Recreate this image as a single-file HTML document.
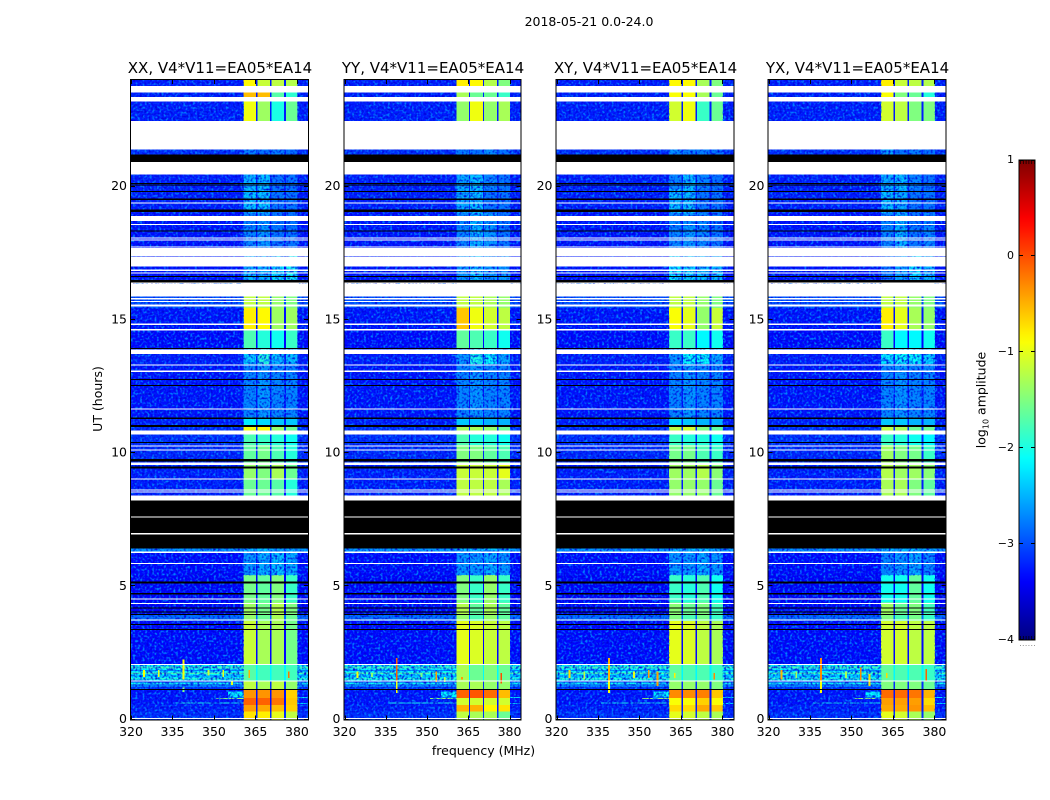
<!DOCTYPE html>
<html>
<head>
<meta charset="utf-8">
<title>2018-05-21 0.0-24.0</title>
<style>
html,body{margin:0;padding:0;background:#fff;width:1050px;height:800px;overflow:hidden}
svg{display:block}
text{font-family:"DejaVu Sans","Liberation Sans",sans-serif;fill:#000}
</style>
</head>
<body>
<svg id="figure" xmlns="http://www.w3.org/2000/svg" width="1050" height="800" viewBox="0 0 1050 800">
  <defs>
    <filter id="speckleLight" x="0" y="0" width="100%" height="100%" color-interpolation-filters="sRGB">
      <feTurbulence type="fractalNoise" baseFrequency="0.42" numOctaves="1" seed="4"/>
      <feColorMatrix type="matrix" values="0 0 0 0 0  0 0 0 0 0.5  0 0 0 0 1  4 0 0 0 -1.9"/>
    </filter>
    <filter id="speckleDark" x="0" y="0" width="100%" height="100%" color-interpolation-filters="sRGB">
      <feTurbulence type="fractalNoise" baseFrequency="0.45" numOctaves="1" seed="11"/>
      <feColorMatrix type="matrix" values="0 0 0 0 0  0 0 0 0 0  0 0 0 0 0.85  0 3 0 0 -1.4"/>
    </filter>
    <linearGradient id="jetGradient" x1="0" y1="0" x2="0" y2="1"></linearGradient>
  </defs>
  <text x="589" y="26" font-size="12.5" text-anchor="middle">2018-05-21 0.0-24.0</text>
  <text x="483.5" y="755" font-size="12.5" text-anchor="middle">frequency (MHz)</text>
  <text font-size="12.5" text-anchor="middle" transform="translate(102 399) rotate(-90)">UT (hours)</text>
  <text font-size="12.5" text-anchor="middle" transform="translate(985.5 400) rotate(-90)">log<tspan font-size="8" dy="3">10</tspan><tspan dy="-3"> amplitude</tspan></text>
  <g id="panels"></g>
  <g id="colorbar"></g>
</svg>
<script>
// ---- data ----
const panelNames = ['XX', 'YY', 'XY', 'YX'];
const titleSuffix = ', V4*V11=EA05*EA14';
const freqTicks = [320, 335, 350, 365, 380];
const hourTicks = [0, 5, 10, 15, 20];
const colorbarTicks = [1, 0, -1, -2, -3, -4];
const subbandLow = [360.7, 365.7, 370.8, 376];
const subbandHigh = [365.2, 370.3, 375.4, 380.2];

const rowTop = [24, 23.55, 23.3, 21.45, 20.5, 19.9, 19, 17.4, 15.9, 15.45, 14.6, 13.9, 13.35, 11.35, 11.05, 10.8, 10.3, 9.6, 9, 6.42, 6.28, 5.42, 4.4, 3.95, 3.7, 2.07, 1.47, 1.1, 0.8, 0.55, 0.3];
const rowBottom = [23.55, 23.3, 22.45, 20.9, 19.9, 19, 17.7, 16.4, 15.45, 14.6, 13.9, 13.35, 11.35, 11.05, 10.8, 10.3, 9.6, 9, 8.41, 6.28, 5.42, 4.4, 3.95, 3.7, 2.07, 1.47, 1.1, 0.8, 0.55, 0.3, 0];
const rowBackground = [-3.25, -3.25, -3.25, -3.15, -3.25, -3.25, -3.3, -3.3, -3.0, -3.3, -3.35, -3.25, -3.3, -3.25, -3.15, -3.15, -3.2, -3.25, -3.25, -2.6, -3.35, -3.4, -3.4, -2.85, -3.35, -2.15, -3.15, -3.3, -3.3, -3.25, -3.15];

const bandsXX = [
[-.85,-1.15,-1.2,-1.25],[-.55,-.55,-1.7,-1.9],[-.95,-1.35,-2.0,-1.6],[-2.75,-2.8,-2.75,-2.85],[-2.45,-2.4,-2.8,-2.8],[-2.4,-2.4,-2.8,-2.8],[-2.7,-2.6,-2.8,-2.8],[-2.45,-2.45,-2.25,-2.05],
[-1.2,-1.2,-1.4,-1.5],[-.8,-.85,-1.35,-1.35],[-1.75,-1.95,-2.05,-1.85],[-2.3,-1.95,-2.4,-2.4],[-2.7,-2.6,-2.7,-2.7],[-2.2,-2.3,-2.4,-2.4],[-.95,-.9,-1.4,-1.6],[-1.75,-1.85,-1.95,-2.05],
[-1.65,-1.55,-1.75,-1.95],[-1.4,-1.5,-1.3,-1.6],[-1.6,-1.6,-1.7,-1.95],[-2.4,-2.4,-2.5,-2.5],[-2.6,-2.5,-2.4,-2.5],[-1.55,-1.65,-1.5,-1.85],[-1.35,-1.55,-1.25,-1.5],[-1.4,-1.6,-1.3,-1.6],
[-1.15,-1.3,-1.3,-1.55],[-1.7,-1.8,-1.8,-1.8],[-1.2,-1.3,-1.2,-1.4],[-.35,-.35,-.35,-.65],[-.1,-.1,-.2,-.6],[-.4,-.45,-.55,-.65],[-.75,-.8,-1.0,-1.2]];
const bandsYY = [
[-.8,-.85,-1.25,-1.5],[-1.3,-1.6,-1.6,-1.85],[-1.4,-.95,-1.4,-1.3],[-2.75,-2.8,-2.65,-2.8],[-2.5,-2.4,-2.7,-2.8],[-2.5,-2.4,-2.8,-2.8],[-2.7,-2.45,-2.6,-2.8],[-2.6,-2.4,-2.6,-2.6],
[-1.2,-1.2,-1.3,-1.4],[-.6,-.95,-1.1,-1.2],[-1.65,-1.75,-1.85,-2.05],[-2.6,-2.0,-2.1,-2.5],[-2.7,-2.6,-2.7,-2.7],[-2.4,-2.4,-2.5,-2.5],[-1.3,-1.3,-1.4,-1.6],[-1.75,-1.95,-1.95,-2.05],
[-1.5,-1.5,-1.65,-1.75],[-1.15,-1.15,-1.15,-1.0],[-1.2,-1.2,-1.2,-1.3],[-2.4,-2.4,-2.4,-2.4],[-2.6,-2.6,-2.5,-2.6],[-1.5,-1.85,-1.4,-1.85],[-1.25,-1.65,-1.3,-1.65],[-1.4,-1.75,-1.4,-1.65],
[-1.0,-1.05,-1.15,-1.2],[-1.3,-1.6,-1.5,-1.6],[-1.3,-1.3,-1.4,-1.4],[-.1,-.05,-.15,-.55],[-1.1,-1.1,-1.1,-1.1],[-.5,-.5,-.85,-.75],[-1.2,-1.3,-1.3,-1.6]];
const bandsXY = [
[-.85,-.85,-1.3,-1.5],[-.9,-.9,-1.3,-1.6],[-1.1,-.95,-1.85,-1.6],[-2.65,-2.75,-2.75,-2.8],[-2.7,-2.4,-2.7,-2.8],[-2.4,-2.4,-2.8,-2.8],[-2.7,-2.6,-2.7,-2.8],[-2.2,-2.3,-2.4,-2.4],
[-1.2,-1.2,-1.4,-1.5],[-.9,-1.0,-1.4,-1.15],[-1.85,-1.85,-2.15,-2.05],[-2.6,-2.1,-2.1,-2.5],[-2.7,-2.6,-2.7,-2.7],[-2.3,-2.4,-2.5,-2.5],[-1.2,-1.1,-1.5,-1.65],[-1.85,-1.95,-1.95,-2.05],
[-1.55,-1.55,-1.75,-1.85],[-1.35,-1.35,-1.25,-1.45],[-1.4,-1.4,-1.4,-1.6],[-2.4,-2.4,-2.4,-2.5],[-2.6,-2.6,-2.5,-2.6],[-1.85,-1.95,-1.75,-2.05],[-1.45,-1.6,-1.5,-1.8],[-1.5,-1.75,-1.55,-1.85],
[-1.0,-1.05,-1.2,-1.3],[-1.65,-1.75,-1.75,-1.85],[-1.4,-1.4,-1.4,-1.5],[-.3,-.3,-.25,-.6],[-.9,-.9,-.65,-.9],[-.7,-.7,-.45,-.6],[-1.0,-1.1,-1.2,-1.3]];
const bandsYX = [
[-.8,-1.15,-1.2,-1.25],[-.9,-1.5,-1.6,-1.95],[-1.1,-1.2,-1.5,-1.5],[-2.55,-2.8,-2.75,-2.8],[-2.5,-2.4,-2.7,-2.8],[-2.4,-2.5,-2.8,-2.8],[-2.7,-2.45,-2.8,-2.7],[-2.8,-2.55,-2.25,-2.45],
[-1.2,-1.2,-1.4,-1.5],[-.8,-1.0,-1.3,-1.4],[-1.85,-2.15,-2.15,-2.05],[-2.2,-2.1,-2.1,-2.3],[-2.7,-2.6,-2.7,-2.7],[-2.4,-2.4,-2.5,-2.5],[-1.2,-1.3,-1.6,-1.6],[-1.85,-1.95,-2.05,-2.15],
[-1.35,-1.5,-1.55,-1.85],[-1.25,-1.35,-1.35,-1.45],[-1.3,-1.3,-1.5,-1.65],[-2.4,-2.4,-2.4,-2.5],[-2.7,-2.6,-2.5,-2.7],[-2.05,-2.05,-1.65,-2.05],[-1.35,-1.6,-1.5,-1.8],[-1.5,-1.75,-1.55,-1.85],
[-1.1,-1.1,-1.2,-1.2],[-1.65,-1.75,-1.75,-1.85],[-1.5,-1.5,-1.5,-1.6],[-.15,-.15,-.2,-.5],[-.4,-.4,-.4,-.7],[-.45,-.45,-.35,-.55],[-1.0,-1.1,-1.3,-1.4]];

// whole-width flagged integrations, hours [upper, lower]
const blackGaps = [[21.21,20.93],[20.14,20.11],[20.08,20.05],[19.83,19.8],[19.55,19.49],[19.14,19.05],[18.35,18.31],[16.64,16.6],[16.49,16.38],[13.95,13.91],[12.78,12.74],[12.55,12.51],[11.33,11.27],[11.06,10.98],[10.41,10.37],[9.77,9.69],[9.49,9.42],[8.22,6.42],[5.18,5.1],[4.74,4.7],[4.2,4.16],[4.05,4.01],[3.96,3.92],[3.59,3.55],[3.4,3.36],[1.15,1.11]];
const whiteGaps = [[23.77,23.54],[23.37,23.2],[22.47,21.4],[20.93,20.46],[19.41,19.37],[18.9,18.7],[18.59,18.55],[18.09,18.05],[18.01,17.97],[17.76,17.72],[17.7,17.38],[17.35,17.0],[16.88,16.84],[16.78,16.74],[16.4,16.37],[16.35,15.88],[15.82,15.77],[15.71,15.66],[15.58,15.5],[14.87,14.8],[14.65,14.6],[13.88,13.72],[13.33,13.29],[13.09,13.05],[11.68,11.64],[10.85,10.7],[10.29,10.25],[10.14,10.1],[9.65,9.56],[9.05,9.01],[8.64,8.6],[8.55,8.51],[8.41,8.22],[7.62,7.58],[6.99,6.95],[6.31,6.25],[5.87,5.83],[4.55,4.51],[4.38,4.34],[3.76,3.72],[2.09,2.05],[1.46,1.42],[0.05,0.02]];

// narrow-band background stripes: hour upper, hour lower, level
const stripeTop = [1.98, 1.86, 1.76, 1.66, 1.56, 1.38, 1.28];
const stripeBottom = [1.92, 1.82, 1.7, 1.62, 1.5, 1.32, 1.24];
const stripeLevel = [-1.8, -2.7, -1.75, -2.6, -1.9, -2.05, -2.3];

// interference patches left/right of the band: f0, f1, hour upper, hour lower, level
const patchF0 = [355, 351, 336, 380.2, 380.2];
const patchF1 = [360.7, 360.7, 360.7, 384, 384];
const patchTop = [1.05, 0.8, 0.64, 0.84, 0.62];
const patchBottom = [0.82, 0.76, 0.6, 0.8, 0.58];
const patchLevel = [-2.15, -1.4, -2.0, -2.2, -2.3];

// vertical RFI spikes by polarization: freq, hour upper, hour lower, level
const spikeFreqs = [339, 339, 324.7, 330, 348, 353.4, 356.5, 362.7, 377];
const spikeTopXX = [2.25, 1.2, 1.85, 1.85, 1.85, 1.85, 1.45, 1.85, 1.8];
const spikeBottomXX = [1.5, 1.03, 1.6, 1.6, 1.65, 1.6, 1.3, 1.55, 1.55];
const spikeLevelXX = [-0.9, -1.5, -0.9, -1.0, -1.1, -1.0, -1.0, -0.5, -0.2];
const spikeTopYY = [2.3, 1.45, 1.8, 1.75, 1.75, 1.8, 1.6, 1.6, 1.75];
const spikeBottomYY = [1.35, 1.0, 1.55, 1.6, 1.6, 1.4, 1.4, 1.5, 1.35];
const spikeLevelYY = [-0.1, -0.9, -0.9, -1.4, -1.5, -0.4, -1.2, -0.4, 0];
const spikeTopXY = [2.3, 1.45, 1.85, 1.8, 1.8, 1.85, 1.8, 1.75, 1.75];
const spikeBottomXY = [1.4, 1.0, 1.55, 1.5, 1.55, 1.55, 1.25, 1.55, 1.5];
const spikeLevelXY = [-0.5, -0.9, -0.7, -1.2, -1.0, -0.4, -0.4, -0.8, -0.3];
const spikeTopYX = [2.3, 1.45, 1.85, 1.8, 1.8, 1.95, 1.7, 1.75, 1.9];
const spikeBottomYX = [1.45, 1.0, 1.5, 1.55, 1.55, 1.45, 1.25, 1.55, 1.45];
const spikeLevelYX = [-0.3, -0.9, -0.5, -1.3, -1.3, -0.3, -0.7, -0.7, -0.1];

// hours where the 360-380 MHz band is faint and visibly speckled
const speckleBandTop = [21.45, 13.9, 6.42];
const speckleBandBottom = [16.4, 11.35, 5.42];

// ---- scales & layout ----
const NS = 'http://www.w3.org/2000/svg';
const panelLefts = [131, 344.5, 556.5, 768.5];
const panelWidths = [177, 176, 177, 177];
const plotTop = 80, plotBottom = 719.5;
const F_MIN = 320, F_MAX = 384, H_MAX = 24;
const L_MIN = -4, L_MAX = 1;
const cbX = 1019, cbW = 16, cbTop = 160, cbBottom = 640;

function hourY(h) { return plotBottom - h * (plotBottom - plotTop) / H_MAX; }
function levelY(l) { return cbBottom - (l - L_MIN) * (cbBottom - cbTop) / (L_MAX - L_MIN); }
function jet(l) {
  const t = Math.max(0, Math.min(1, (l - L_MIN) / (L_MAX - L_MIN)));
  const ch = function (d) { return Math.round(255 * Math.max(0, Math.min(1, 1.5 - Math.abs(4 * t - d)))); };
  return 'rgb(' + ch(3) + ',' + ch(2) + ',' + ch(1) + ')';
}
function mk(parent, tag, attrs) {
  const el = document.createElementNS(NS, tag);
  for (const k in attrs) el.setAttribute(k, attrs[k]);
  parent.appendChild(el);
  return el;
}

const bandsByPanel = [bandsXX, bandsYY, bandsXY, bandsYX];
const spikesByPanel = [
  [spikeTopXX, spikeBottomXX, spikeLevelXX],
  [spikeTopYY, spikeBottomYY, spikeLevelYY],
  [spikeTopXY, spikeBottomXY, spikeLevelXY],
  [spikeTopYX, spikeBottomYX, spikeLevelYX]
];

const panelsRoot = document.getElementById('panels');
panelNames.forEach(function (name, p) {
  const left = panelLefts[p];
  const panelWidth = panelWidths[p];
  const lower = name.toLowerCase();
  const freqX = function (f) { return left + (f - F_MIN) * panelWidth / (F_MAX - F_MIN); };
  const hourRect = function (parent, f0, f1, h0, h1, fill) {
    const top = hourY(h0), bot = hourY(h1);
    const x0 = freqX(f0), x1 = freqX(f1);
    return mk(parent, 'rect', { x: x0, y: top, width: x1 - x0, height: Math.max(1, bot - top), fill: fill, 'shape-rendering': 'crispEdges' });
  };
  const g = mk(panelsRoot, 'g', {});
  
  

  const hm = mk(g, 'g', {});
  
  
  mk(hm, 'rect', { x: left, y: plotTop, width: panelWidth, height: plotBottom - plotTop, fill: '#fff' });

  // rows -> cells
  rowTop.forEach(function (t, r) {
    const b = rowBottom[r], bg = rowBackground[r], lv = bandsByPanel[p][r];
    const bgCell = hourRect(hm, F_MIN, F_MAX, t, b, jet(bg));
    
    
    subbandLow.forEach(function (lo, s) {
      const cell = hourRect(hm, lo, subbandHigh[s], t, b, jet(lv[s]));
      
      
    });
  });
  // background stripes
  stripeTop.forEach(function (t, i) {
    const a = hourRect(hm, F_MIN, subbandLow[0], t, stripeBottom[i], jet(stripeLevel[i]));
    
    
    const c = hourRect(hm, subbandHigh[3], F_MAX, t, stripeBottom[i], jet(stripeLevel[i]));
    
    
  });
  patchTop.forEach(function (t, i) {
    const el = hourRect(hm, patchF0[i], patchF1[i], t, patchBottom[i], jet(patchLevel[i]));
    
    
  });
  // speckle
  const speckle = function (f0, f1, h0, h1) {
    ['speckleLight', 'speckleDark'].forEach(function (fl) {
      const xa = freqX(f0), xb = freqX(f1), ya = hourY(h0), yb = hourY(h1);
      const s = mk(hm, 'rect', { x: xa, y: ya, width: xb - xa, height: yb - ya, filter: 'url(#' + fl + ')' });
      
      
    });
  };
  speckle(F_MIN, subbandLow[0], H_MAX, 0);
  speckle(subbandHigh[3], F_MAX, H_MAX, 0);
  speckleBandTop.forEach(function (t, i) { speckle(subbandLow[0], subbandHigh[3], t, speckleBandBottom[i]); });
  // spikes
  const sp = spikesByPanel[p];
  spikeFreqs.forEach(function (f, i) {
    const el = hourRect(hm, f - 0.3, f + 0.3, sp[0][i], sp[1][i], jet(sp[2][i]));
    
    
  });
  // flags
  blackGaps.forEach(function (gp) {
    const el = hourRect(hm, F_MIN, F_MAX, gp[0], gp[1], '#000');
    
    
  });
  whiteGaps.forEach(function (gp) {
    const el = hourRect(hm, F_MIN, F_MAX, gp[0], gp[1], '#fff');
    
    
  });

  // frame
  const frame = mk(g, 'rect', { x: left - 0.5, y: plotTop - 0.5, width: panelWidth + 1, height: plotBottom - plotTop + 1, fill: 'none', stroke: '#000', 'stroke-width': 1, 'shape-rendering': 'crispEdges' });
  
  

  // title
  const title = mk(g, 'text', { x: left + panelWidth / 2 + 0.5, y: 73, 'font-size': 15, 'text-anchor': 'middle' });
  title.textContent = name + titleSuffix;
  
  

  // x ticks
  freqTicks.forEach(function (f) {
    const x = Math.round(freqX(f)) + 0.5;
    const t1 = mk(g, 'line', { x1: x, x2: x, y1: plotBottom, y2: plotBottom - 4, stroke: '#000', 'stroke-width': 1, 'shape-rendering': 'crispEdges' });
    
    
    const t2 = mk(g, 'line', { x1: x, x2: x, y1: plotTop, y2: plotTop + 4, stroke: '#000', 'stroke-width': 1, 'shape-rendering': 'crispEdges' });
    
    
    const lab = mk(g, 'text', { x: freqX(f), y: 736, 'font-size': 12.5, 'text-anchor': 'middle' });
    lab.textContent = String(f);
    
    
  });
  // y ticks
  hourTicks.forEach(function (h) {
    const y = Math.round(hourY(h)) - 0.5;
    const t1 = mk(g, 'line', { x1: left, x2: left + 4, y1: y, y2: y, stroke: '#000', 'stroke-width': 1, 'shape-rendering': 'crispEdges' });
    
    
    const t2 = mk(g, 'line', { x1: left + panelWidth - 4, x2: left + panelWidth, y1: y, y2: y, stroke: '#000', 'stroke-width': 1, 'shape-rendering': 'crispEdges' });
    
    
    const lab = mk(g, 'text', { x: left - 4, y: hourY(h) + 3.5, 'font-size': 12.5, 'text-anchor': 'end' });
    lab.textContent = String(h);
    
    
  });
});

// ---- colorbar ----
const grad = document.getElementById('jetGradient');
for (let l = L_MAX * 10; l >= L_MIN * 10; l -= 1) {
  const lvl = l / 10;
  mk(grad, 'stop', { offset: (L_MAX - lvl) / (L_MAX - L_MIN), 'stop-color': jet(lvl) });
}
const cb = document.getElementById('colorbar');
const cbRamp = mk(cb, 'rect', { x: cbX, y: cbTop, width: cbW, height: cbBottom - cbTop, fill: 'url(#jetGradient)', stroke: '#000', 'stroke-width': 1 });


colorbarTicks.forEach(function (v) {
  const y = Math.round(levelY(v)) + (v === L_MAX ? 0.5 : -0.5);
  const a = mk(cb, 'line', { x1: cbX, x2: cbX + 4, y1: y, y2: y, stroke: '#000', 'shape-rendering': 'crispEdges' });
  
  
  const b = mk(cb, 'line', { x1: cbX + cbW - 4, x2: cbX + cbW, y1: y, y2: y, stroke: '#000', 'shape-rendering': 'crispEdges' });
  
  
  const lab = mk(cb, 'text', { x: cbX - 5, y: levelY(v) + 3, 'font-size': 11, 'text-anchor': 'end' });
  lab.textContent = v < 0 ? '\u2212' + Math.abs(v) : String(v);
  
  
});
for (let i = 0; i < 6; i++) {
  const x = cbX + 1.5 + i * 2.8;
  const upper = mk(cb, 'line', { x1: x, x2: x, y1: cbTop, y2: cbTop + 4, stroke: '#000', 'stroke-width': 0.7 });
  
  
  const lowerTick = mk(cb, 'line', { x1: x, x2: x, y1: cbBottom - 4, y2: cbBottom, stroke: '#000', 'stroke-width': 0.7 });
  
  
  const dot = mk(cb, 'rect', { x: x - 0.5, y: 645, width: 1, height: 1, fill: '#999' });
  
  
}
</script>
</body>
</html>
